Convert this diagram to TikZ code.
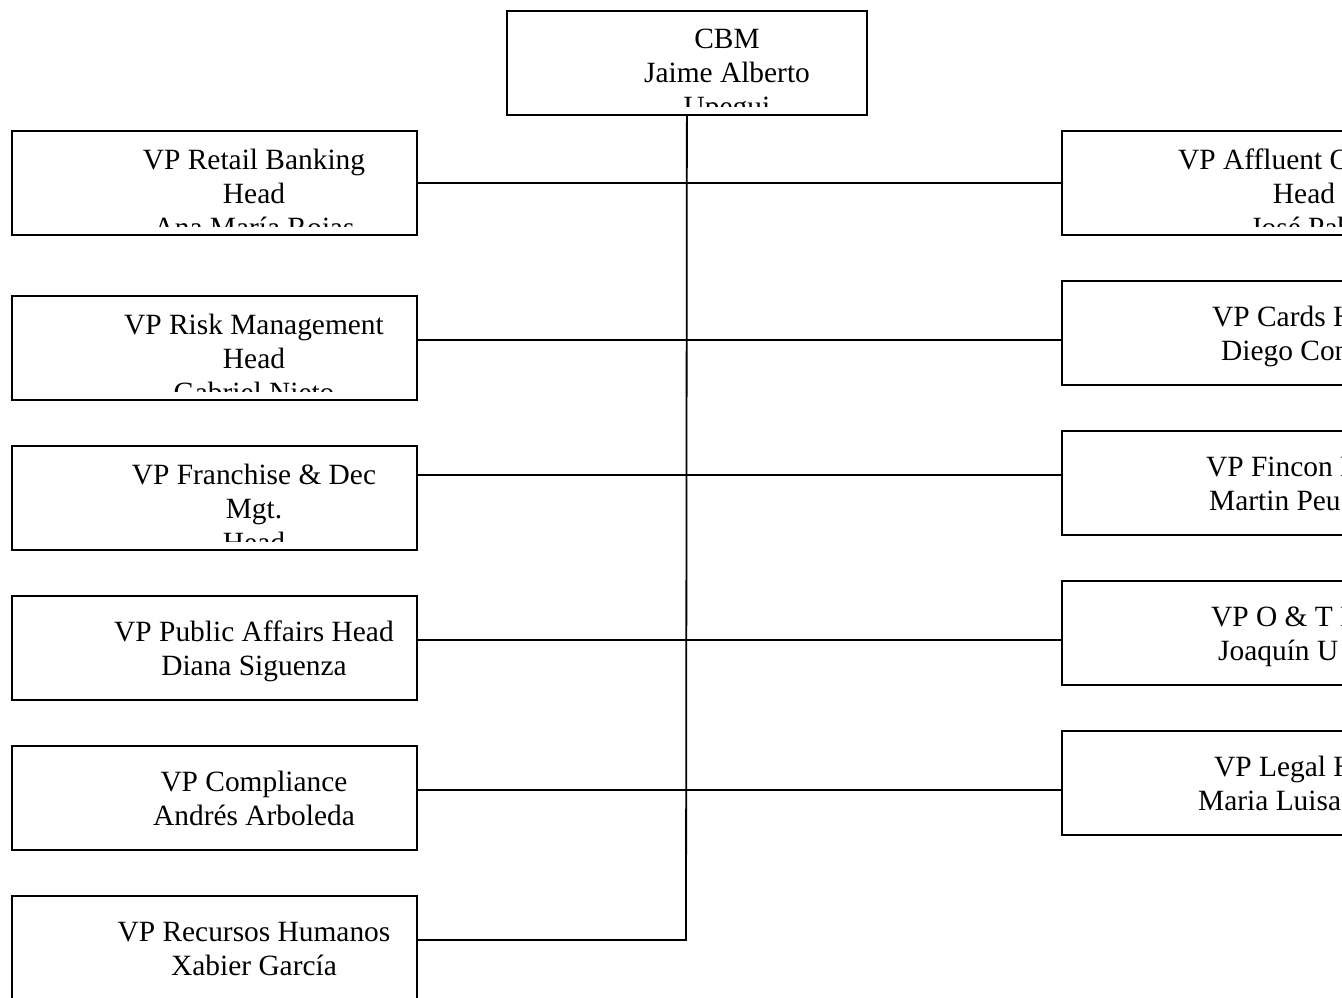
\documentclass[tikz,border=0pt]{standalone}
\usepackage{fontspec}
\setmainfont{Liberation Serif}
\usetikzlibrary{calc}

% Three-line box text, clipped just above the lower border.
% #1 box name, #2 horizontal offset of the text centre, #3-#5 lines
\newcommand{\orgthree}[5]{%
  \begin{scope}
    \clip (#1.north west) rectangle ($(#1.north east)+(0,96)$);
    \node[label text] (#1-a) at ($(#1.north west)+(#2,39)$) {#3};
    \node[label text] (#1-b) at ($(#1.north west)+(#2,73)$) {#4};
    \node[label text] (#1-c) at ($(#1.north west)+(#2,107)$) {#5};
  \end{scope}}
% Two-line box text, centred at the given offset
\newcommand{\orgtwo}[4]{%
  \node[label text] (#1-a) at ($(#1.north west)+(#2,46.5)$) {#3};
  \node[label text] (#1-b) at ($(#1.north west)+(#2,80.5)$) {#4};}

\begin{document}
\begin{tikzpicture}[x=1pt,y=-1pt,
  unit/.style={draw=black, line width=1.8pt, minimum width=405pt,
    minimum height=104pt, inner sep=0pt, anchor=north west},
  topunit/.style={unit, minimum width=360pt},
  link/.style={draw=black, line width=1.8pt},
  label text/.style={font=\fontsize{29.4}{34}\selectfont, inner sep=0pt,
    anchor=base, text=black},
  part text/.style={label text, anchor=base west}]
\useasboundingbox (0,0) rectangle (1342,998);
\clip (0,0) rectangle (1342,998);

% boxes
\node[topunit] (cbm) at (506,10) {};

\node[unit] (retail)     at (11,130) {};
\node[unit] (risk)       at (11,295) {};
\node[unit] (franchise)  at (11,445) {};
\node[unit] (public)     at (11,595) {};
\node[unit] (compliance) at (11,745) {};
\node[unit] (rh)         at (11,895) {};

\node[unit] (affluent) at (1061,130) {};
\node[unit] (cards)    at (1061,280) {};
\node[unit] (fincon)   at (1061,430) {};
\node[unit] (ot)       at (1061,580) {};
\node[unit] (legal)    at (1061,730) {};

% box texts
\orgthree{cbm}{221}{CBM}{Jaime Alberto}{Upegui}
\orgthree{retail}{243}{VP Retail Banking}{Head}{Ana María Rojas}
\orgthree{risk}{243}{VP Risk Management}{Head}{Gabriel Nieto}
\orgthree{franchise}{243}{VP Franchise \& Dec}{Mgt.}{Head}
\orgtwo{public}{243}{VP Public Affairs Head}{Diana Siguenza}
\orgtwo{compliance}{243}{VP Compliance}{Andrés Arboleda}
\orgtwo{rh}{243}{VP Recursos Humanos}{Xabier García}

\begin{scope}
  \clip (affluent.north west) rectangle ($(affluent.north east)+(0,96)$);
  \node[part text] (affluent-a) at ($(affluent.north west)+(117,39)$) {VP Affluent O};
  \node[label text] (affluent-b) at ($(affluent.north west)+(243,73)$) {Head};
  \node[part text] (affluent-c) at ($(affluent.north west)+(189,107)$) {José Pab};
\end{scope}
\node[part text] (cards-a)  at ($(cards.north west)+(151,46.5)$) {VP Cards H};
\node[part text] (cards-b)  at ($(cards.north west)+(160,80.5)$) {Diego Con};
\node[part text] (fincon-a) at ($(fincon.north west)+(145,46.5)$) {VP Fincon H};
\node[part text] (fincon-b) at ($(fincon.north west)+(148,80.5)$) {Martin Peu};
\node[part text] (ot-a)     at ($(ot.north west)+(150,46.5)$) {VP O \& T H};
\node[part text] (ot-b)     at ($(ot.north west)+(157,80.5)$) {Joaquín U};
\node[part text] (legal-a)  at ($(legal.north west)+(153,46.5)$) {VP Legal H};
\node[part text] (legal-b)  at ($(legal.north west)+(137,80.5)$) {Maria Luisa};

% junctions on the trunk
\coordinate (j1) at (686,183);
\coordinate (j2) at (686,340);
\coordinate (j3) at (686,475);
\coordinate (j4) at (686,640);
\coordinate (j5) at (686,790);
\coordinate (j6) at (686,940);

% connectors
\draw[link] (cbm.south) -- (j6) -- (rh.east |- j6);
\draw[link] (retail.east |- j1)     -- (affluent.west |- j1);
\draw[link] (risk.east |- j2)       -- (cards.west |- j2);
\draw[link] (franchise.east |- j3)  -- (fincon.west |- j3);
\draw[link] (public.east |- j4)     -- (ot.west |- j4);
\draw[link] (compliance.east |- j5) -- (legal.west |- j5);
\end{tikzpicture}
\end{document}
